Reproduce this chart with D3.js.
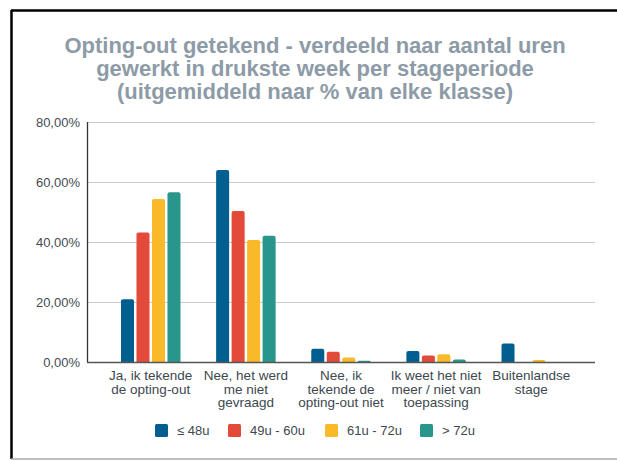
<!DOCTYPE html>
<html>
<head>
<meta charset="utf-8">
<script src="https://cdn.jsdelivr.net/npm/d3@7"></script>
<style>
  body { margin: 0; background: #fff; }
  svg { display: block; font-family: "Liberation Sans", Arial, sans-serif; }
</style>
</head>
<body>
<div id="chart"></div>
<script>
// categorieen op de x-as
var categorieen = [
    ["Ja, ik tekende", "de opting-out"],
    ["Nee, het werd", "me niet", "gevraagd"],
    ["Nee, ik", "tekende de", "opting-out niet"],
    ["Ik weet het niet", "meer / niet van", "toepassing"],
    ["Buitenlandse", "stage"]
];
var klassen = ["≤ 48u", "49u - 60u", "61u - 72u", "> 72u"];
var kleuren = ["#005f8e", "#e34a39", "#fab929", "#28968a"];

// percentages per klasse (een reeks per klasse)
var reeks48 = [20.9, 64.0, 4.4, 3.7, 6.2];
var reeks60 = [43.2, 50.3, 3.4, 2.2, 0];
var reeks72 = [54.3, 40.7, 1.5, 2.6, 0.7];
var reeksMeer = [56.6, 42.1, 0.4, 0.8, 0];
var reeksen = [reeks48, reeks60, reeks72, reeksMeer];

var yTicks = [0, 20, 40, 60, 80];
var titel = [
    "Opting-out getekend - verdeeld naar aantal uren",
    "gewerkt in drukste week per stageperiode",
    "(uitgemiddeld naar % van elke klasse)"
];

var width = 617, height = 460;
var svg = d3.select("#chart").append("svg")
    .attr("width", width)
    .attr("height", height);

// kader
svg.append("line").attr("x1", 11).attr("x2", width).attr("y1", 10.5).attr("y2", 10.5)
    .attr("stroke", "#000").attr("stroke-width", 2.5);
svg.append("line").attr("x1", 11.5).attr("x2", 11.5).attr("y1", 10).attr("y2", 459)
    .attr("stroke", "#000").attr("stroke-width", 2.5);
svg.append("line").attr("x1", 11).attr("x2", width).attr("y1", 459).attr("y2", 459)
    .attr("stroke", "#aaa").attr("stroke-width", 1.5);

// titel
svg.append("text")
    .attr("x", 315)
    .attr("y", 53)
    .attr("text-anchor", "middle")
    .attr("fill", "#8d9ba7")
    .style("font-size", "22px")
    .style("font-weight", "bold")
    .selectAll("tspan")
    .data(titel)
    .enter()
    .append("tspan")
    .attr("x", 315)
    .attr("dy", function(d, i) { return i == 0 ? 0 : 23; })
    .text(function(d) { return d; });

var plotLeft = 87, plotRight = 595, plotTop = 122, plotBottom = 362;

var y = d3.scaleLinear().domain([0, 80]).range([plotBottom, plotTop]);
var x0 = d3.scaleBand()
    .domain(d3.range(categorieen.length))
    .range([plotLeft, plotRight])
    .paddingInner(0)
    .paddingOuter(0.17);
var x1 = d3.scaleBand()
    .domain(d3.range(klassen.length))
    .range([-29.75, 29.75])
    .paddingInner(0.16);

// rasterlijnen
svg.append("g")
    .selectAll("line")
    .data(yTicks.slice(1))
    .enter()
    .append("line")
    .attr("x1", plotLeft).attr("x2", plotRight)
    .attr("y1", function(d) { return Math.round(y(d)) + 0.5; })
    .attr("y2", function(d) { return Math.round(y(d)) + 0.5; })
    .attr("stroke", "#cccccc")
    .attr("stroke-width", 1);

// y-as
var yAxis = d3.axisLeft(y)
    .tickValues(yTicks)
    .tickSize(0)
    .tickPadding(7)
    .tickFormat(function(d) { return d3.format(".2f")(d).replace(".", ",") + "%"; });
var gy = svg.append("g").attr("transform", "translate(" + plotLeft + ",0)").call(yAxis);
gy.select(".domain").remove();
gy.selectAll("text")
    .style("font-size", "13px")
    .style("font-family", "\"Liberation Sans\", Arial, sans-serif")
    .attr("fill", "#444b52");

// staven met afgeronde bovenhoeken
function staaf(x, w, yTop, yBot, r) {
    var h = yBot - yTop;
    if (h <= 0) return "";
    r = Math.min(r, h, w / 2);
    return "M" + x + "," + yBot +
        "V" + (yTop + r) +
        "Q" + x + "," + yTop + " " + (x + r) + "," + yTop +
        "H" + (x + w - r) +
        "Q" + (x + w) + "," + yTop + " " + (x + w) + "," + (yTop + r) +
        "V" + yBot + "Z";
}

var data = [];
categorieen.forEach(function(c, ci) {
    reeksen.forEach(function(r, ki) {
        data.push({ cat: ci, klasse: ki, waarde: r[ci] });
    });
});

svg.append("g")
    .selectAll("path")
    .data(data)
    .enter()
    .append("path")
    .attr("fill", function(d) { return kleuren[d.klasse]; })
    .attr("d", function(d) {
        var cx = x0(d.cat) + x0.bandwidth() / 2;
        return staaf(cx + x1(d.klasse), x1.bandwidth(), y(d.waarde), plotBottom, 2);
    });

// assen lijnen
svg.append("line").attr("x1", plotLeft + 0.5).attr("x2", plotLeft + 0.5).attr("y1", plotTop).attr("y2", plotBottom)
    .attr("stroke", "#333").attr("stroke-width", 1.3);
svg.append("line").attr("x1", plotLeft).attr("x2", plotRight).attr("y1", plotBottom + 0.5).attr("y2", plotBottom + 0.5)
    .attr("stroke", "#555").attr("stroke-width", 1.3);

// x-labels
svg.append("g")
    .selectAll("text")
    .data(categorieen)
    .enter()
    .append("text")
    .attr("text-anchor", "middle")
    .attr("fill", "#3d4850")
    .style("font-size", "13.5px")
    .each(function(d, i) {
        var cx = x0(i) + x0.bandwidth() / 2;
        d3.select(this).selectAll("tspan")
            .data(d)
            .enter()
            .append("tspan")
            .attr("x", cx)
            .attr("y", function(t, j) { return 380 + j * 13.5; })
            .text(function(t) { return t; });
    });

// legenda
var legX = [155, 228, 325, 420];
var leg = svg.append("g")
    .selectAll("g")
    .data(klassen)
    .enter()
    .append("g")
    .attr("transform", function(d, i) { return "translate(" + legX[i] + ",424)"; });
leg.append("rect")
    .attr("width", 13).attr("height", 13).attr("rx", 1.5)
    .attr("fill", function(d, i) { return kleuren[i]; });
leg.append("text")
    .attr("x", 22)
    .attr("y", 11)
    .attr("fill", "#3d4850")
    .style("font-size", "13px")
    .text(function(d) { return d; });
</script>
</body>
</html>
